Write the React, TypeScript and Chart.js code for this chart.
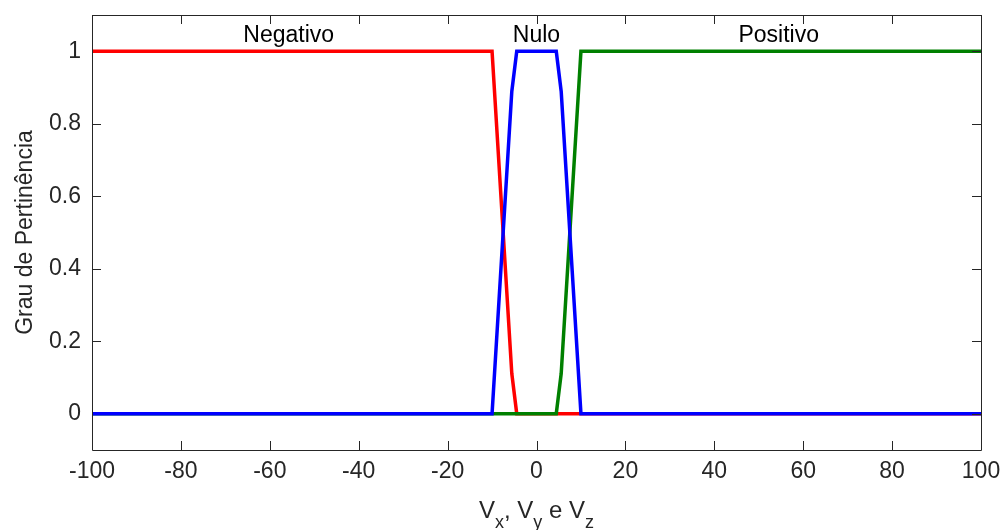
import React, { useEffect, useRef } from "react";
import { Chart, registerables } from "chart.js";

Chart.register(...registerables);

// Breakpoints of the sampled membership functions (x, grau)
const negX = [-100, -10, -5.556, -4.444, 100];
const negY = [1, 1, 0.111, 0, 0];
const nuloX = [-100, -10, -5.556, -4.444, 4.444, 5.556, 10, 100];
const nuloY = [0, 0, 0.889, 1, 1, 0.889, 0, 0];
const posX = [-100, 4.444, 5.556, 10, 100];
const posY = [0, 0, 0.111, 1, 1];

const xTicks = [-100, -80, -60, -40, -20, 0, 20, 40, 60, 80, 100];
const yTicks = [0, 0.2, 0.4, 0.6, 0.8, 1];
const yTickLabels = ["0", "0.2", "0.4", "0.6", "0.8", "1"];

const labelNames = ["Negativo", "Nulo", "Positivo"];
const labelX = [-55.75, 0, 54.5];
const labelY = [1.025, 1.025, 1.025];

const FONT = "'Liberation Sans', Arial, Helvetica, sans-serif";
const AXIS_COLOR = "#262626";

function pts(xs: number[], ys: number[]) {
  return xs.map((x, i) => ({ x, y: ys[i] }));
}

const overlayPlugin = {
  id: "overlay",
  afterDraw(chart: any) {
    const { ctx, chartArea, scales } = chart;
    const { left, right, top, bottom } = chartArea;
    const xs = scales.x;
    const ys = scales.y;
    ctx.save();
    // box
    ctx.strokeStyle = AXIS_COLOR;
    ctx.lineWidth = 1;
    ctx.beginPath();
    ctx.rect(Math.round(left) + 0.5, Math.round(top) + 0.5, Math.round(right - left), Math.round(bottom - top));
    ctx.stroke();
    // inner ticks
    const tl = 9;
    ctx.beginPath();
    xTicks.forEach((v) => {
      const px = Math.round(xs.getPixelForValue(v)) + 0.5;
      ctx.moveTo(px, bottom);
      ctx.lineTo(px, bottom - tl);
      ctx.moveTo(px, top);
      ctx.lineTo(px, top + tl);
    });
    yTicks.forEach((v) => {
      const py = Math.round(ys.getPixelForValue(v)) + 0.5;
      ctx.moveTo(right, py);
      ctx.lineTo(right - tl, py);
    });
    ctx.stroke();

    // text labels
    ctx.fillStyle = "#000000";
    ctx.font = `23px ${FONT}`;
    ctx.textAlign = "center";
    ctx.textBaseline = "alphabetic";
    labelNames.forEach((t, i) => {
      ctx.fillText(t, xs.getPixelForValue(labelX[i]), ys.getPixelForValue(labelY[i]));
    });

    // y title
    ctx.fillStyle = AXIS_COLOR;
    ctx.save();
    ctx.translate(32, (top + bottom) / 2);
    ctx.rotate(-Math.PI / 2);
    ctx.textAlign = "center";
    ctx.textBaseline = "alphabetic";
    ctx.font = `23px ${FONT}`;
    ctx.fillText("Grau de Pertinência", 0, 0);
    ctx.restore();

    // x title with subscripts
    const parts: [string, boolean][] = [
      ["V", false], ["x", true], [", V", false], ["y", true], [" e V", false], ["z", true],
    ];
    const mainF = `24px ${FONT}`;
    const subF = `18px ${FONT}`;
    let total = 0;
    parts.forEach(([s, sub]) => {
      ctx.font = sub ? subF : mainF;
      total += ctx.measureText(s).width;
    });
    let cx = (left + right) / 2 - total / 2;
    const base = 518;
    ctx.textAlign = "left";
    parts.forEach(([s, sub]) => {
      ctx.font = sub ? subF : mainF;
      ctx.fillText(s, cx, sub ? base + 10 : base);
      cx += ctx.measureText(s).width;
    });
    ctx.restore();
  },
};

// left-side y ticks drawn under the data lines
const underPlugin = {
  id: "under",
  beforeDatasetsDraw(chart: any) {
    const { ctx, chartArea, scales } = chart;
    const ys = scales.y;
    ctx.save();
    ctx.strokeStyle = AXIS_COLOR;
    ctx.lineWidth = 1;
    ctx.beginPath();
    yTicks.forEach((v) => {
      const py = Math.round(ys.getPixelForValue(v)) + 0.5;
      ctx.moveTo(chartArea.left, py);
      ctx.lineTo(chartArea.left + 9, py);
    });
    ctx.stroke();
    ctx.restore();
  },
};

export default function App() {
  const ref = useRef<HTMLCanvasElement | null>(null);
  useEffect(() => {
    if (!ref.current) return;
    const chart = new Chart(ref.current, {
      type: "line",
      data: {
        datasets: [
          { label: "Nulo", data: pts(nuloX, nuloY), borderColor: "#0000ff", borderWidth: 3.5, pointRadius: 0, fill: false, tension: 0 },
          { label: "Positivo", data: pts(posX, posY), borderColor: "#008000", borderWidth: 3.5, pointRadius: 0, fill: false, tension: 0 },
          { label: "Negativo", data: pts(negX, negY), borderColor: "#ff0000", borderWidth: 3.5, pointRadius: 0, fill: false, tension: 0 },
        ],
      },
      options: {
        responsive: false,
        animation: false,
        devicePixelRatio: 1,
        layout: { padding: { top: 15, right: 25, left: 0, bottom: 0 } },
        plugins: { legend: { display: false }, tooltip: { enabled: false } },
        scales: {
          x: {
            type: "linear",
            min: -100,
            max: 100,
            afterFit: (s: any) => { s.height = 80; s.paddingLeft = 0; s.paddingRight = 0; },
            afterBuildTicks: (s: any) => { s.ticks = xTicks.map((v) => ({ value: v })); },
            grid: { display: false, drawTicks: false },
            border: { display: false },
            ticks: {
              padding: 8,
              color: AXIS_COLOR,
              font: { family: FONT, size: 23 },
              maxRotation: 0,
              autoSkip: false,
              callback: (v: any) => String(v),
            },
          },
          y: {
            type: "linear",
            min: -0.1,
            max: 1.1,
            afterFit: (s: any) => { s.width = 92; s.paddingTop = 0; s.paddingBottom = 0; },
            afterBuildTicks: (s: any) => { s.ticks = yTicks.map((v) => ({ value: v })); },
            grid: { display: false, drawTicks: false },
            border: { display: false },
            ticks: {
              padding: 11,
              color: AXIS_COLOR,
              font: { family: FONT, size: 23 },
              autoSkip: false,
              callback: (v: any) => {
                const i = yTicks.findIndex((t) => Math.abs(t - v) < 1e-9);
                return i >= 0 ? yTickLabels[i] : "";
              },
            },
          },
        },
      },
      plugins: [underPlugin, overlayPlugin],
    });
    return () => chart.destroy();
  }, []);
  return (
    <div style={{ position: "absolute", left: 0, top: 0, width: 1006, height: 530, background: "#fff" }}>
      <canvas ref={ref} width={1006} height={530} style={{ width: 1006, height: 530 }} />
    </div>
  );
}
